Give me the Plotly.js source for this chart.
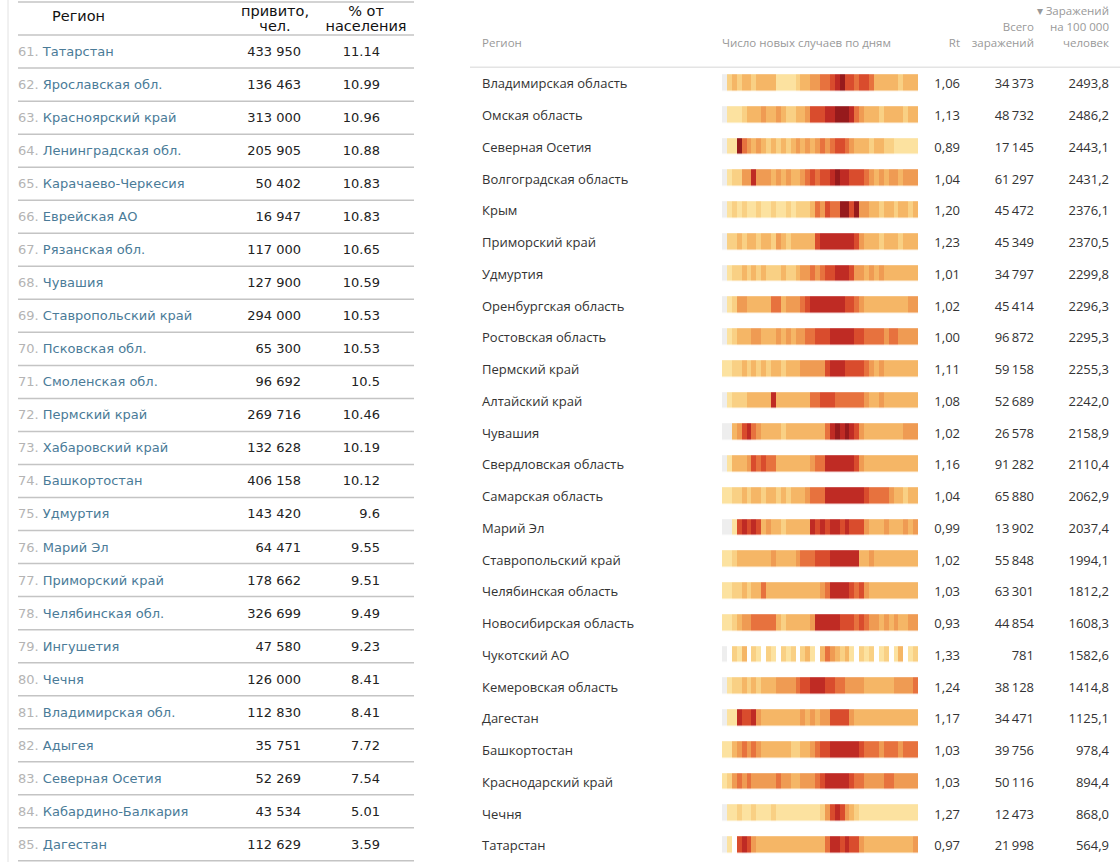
<!DOCTYPE html>
<html><head><meta charset="utf-8">
<script src="https://cdn.plot.ly/plotly-3.0.1.min.js"></script>
<style>html,body{margin:0;padding:0;background:#fff}#chart{width:1120px;height:862px}</style>
</head><body><div id="chart"></div>
<script>
// ---------- LEFT TABLE DATA ----------
const leftRank = [61,62,63,64,65,66,67,68,69,70,71,72,73,74,75,76,77,78,79,80,81,82,83,84,85];
const leftRegions = ["Татарстан","Ярославская обл.","Красноярский край","Ленинградская обл.","Карачаево-Черкесия","Еврейская АО","Рязанская обл.","Чувашия","Ставропольский край","Псковская обл.","Смоленская обл.","Пермский край","Хабаровский край","Башкортостан","Удмуртия","Марий Эл","Приморский край","Челябинская обл.","Ингушетия","Чечня","Владимирская обл.","Адыгея","Северная Осетия","Кабардино-Балкария","Дагестан"];
const leftVaccinated = [433950,136463,313000,205905,50402,16947,117000,127900,294000,65300,96692,269716,132628,406158,143420,64471,178662,326699,47580,126000,112830,35751,52269,43534,112629];
const leftPercent = [11.14,10.99,10.96,10.88,10.83,10.83,10.65,10.59,10.53,10.53,10.5,10.46,10.19,10.12,9.6,9.55,9.51,9.49,9.23,8.41,8.41,7.72,7.54,5.01,3.59];
const leftHeaders = ["Регион","привито,","чел.","% от","населения"];

// ---------- RIGHT TABLE DATA ----------
const rightRegions = ["Владимирская область","Омская область","Северная Осетия","Волгоградская область","Крым","Приморский край","Удмуртия","Оренбургская область","Ростовская область","Пермский край","Алтайский край","Чувашия","Свердловская область","Самарская область","Марий Эл","Ставропольский край","Челябинская область","Новосибирская область","Чукотский АО","Кемеровская область","Дагестан","Башкортостан","Краснодарский край","Чечня","Татарстан"];
const rightRt = [1.06,1.13,0.89,1.04,1.20,1.23,1.01,1.02,1.00,1.11,1.08,1.02,1.16,1.04,0.99,1.02,1.03,0.93,1.33,1.24,1.17,1.03,1.03,1.27,0.97];
const rightTotal = [34373,48732,17145,61297,45472,45349,34797,45414,96872,59158,52689,26578,91282,65880,13902,55848,63301,44854,781,38128,34471,39756,50116,12473,21998];
const rightPer100k = [2493.8,2486.2,2443.1,2431.2,2376.1,2370.5,2299.8,2296.3,2295.3,2255.3,2242.0,2158.9,2110.4,2062.9,2037.4,1994.1,1812.2,1608.3,1582.6,1414.8,1125.1,978.4,894.4,868.0,564.9];
const rightHeaders = ["Регион","Число новых случаев по дням","Rt","Всего","заражений","▾ Заражений","на 100 000","человек"];

// intensity level of new cases per day period (0 = no data, null = zero cases)
const dailyCasesLevel = [
 [0,2,3,2,3,3,2,3,3,3,3,1,1,1,1,2,3,3,4,4,5,5,6,7,8,6,6,5,6,6,5,3,3,3,3,3,2,3,3,3],
 [0,1,1,1,2,3,3,3,4,3,3,4,3,2,2,3,3,4,6,6,6,7,7,8,8,8,7,5,4,3,3,3,2,3,3,3,3,2,3,3],
 [0,1,1,8,5,4,3,4,3,2,3,2,3,2,3,4,3,4,3,4,5,4,5,6,6,5,4,3,3,3,2,3,3,2,2,1,1,1,1,1],
 [0,1,2,2,4,4,7,4,4,4,3,4,3,4,3,3,4,5,6,5,6,6,7,8,7,7,6,6,6,5,4,3,4,3,4,4,3,4,4,4],
 [0,1,2,1,2,1,1,2,1,1,2,1,1,2,1,2,2,2,3,5,4,6,5,5,8,8,6,8,4,4,3,3,2,3,3,2,3,3,2,3],
 [0,2,2,3,2,3,3,2,3,3,2,4,3,2,3,3,3,3,3,6,7,7,7,7,7,7,7,6,4,3,3,3,2,3,3,3,2,3,3,3],
 [0,1,2,2,3,2,3,2,3,2,2,2,3,2,2,3,4,4,5,4,5,6,6,7,7,7,6,4,4,3,4,3,4,3,3,3,3,3,3,3],
 [0,1,2,4,4,3,3,3,3,3,5,5,3,4,4,4,5,6,7,7,7,7,7,7,7,6,6,5,4,3,3,3,3,3,3,3,3,3,4,4],
 [0,1,2,3,3,3,4,4,3,3,3,4,3,4,3,4,4,5,5,6,6,6,7,7,7,7,7,6,6,5,5,5,5,4,5,5,4,4,4,4],
 [1,1,2,2,3,2,3,2,3,2,3,3,2,3,3,3,4,4,4,4,4,6,7,7,7,6,6,6,6,5,4,3,4,3,3,3,3,3,3,3],
 [0,1,2,2,2,3,3,3,3,3,7,3,3,3,3,3,3,3,5,5,6,6,6,5,5,5,5,5,5,4,3,3,4,3,3,3,3,3,3,3],
 [0,0,3,4,6,7,5,4,3,3,3,3,2,3,3,3,3,3,3,3,3,5,7,8,7,8,7,6,4,3,3,3,3,3,3,3,3,4,4,4],
 [0,1,3,3,3,4,6,5,6,5,5,3,3,3,3,3,3,3,4,5,5,7,7,7,7,7,7,6,4,3,3,3,3,3,3,3,3,3,3,3],
 [1,1,2,2,3,2,3,3,2,3,3,2,3,2,3,3,3,4,5,5,5,7,7,7,7,7,7,7,7,6,5,5,5,5,4,3,3,2,3,3],
 [0,0,1,6,7,6,7,6,3,4,3,3,2,3,3,3,3,3,7,6,7,6,7,7,6,7,6,6,6,4,3,3,3,4,3,3,3,4,3,4],
 [1,1,2,3,3,3,3,3,3,3,4,3,3,3,3,4,5,5,5,6,6,6,7,7,7,7,7,7,3,3,4,3,3,3,3,3,3,3,3,3],
 [1,1,2,2,3,2,3,3,5,3,3,3,3,3,3,3,3,3,3,3,4,5,7,7,7,7,6,5,6,4,3,3,3,3,3,3,3,3,3,3],
 [1,1,2,3,4,4,5,5,5,5,5,3,2,3,3,3,3,3,4,7,7,7,7,7,6,6,6,5,6,5,4,4,3,4,3,4,3,3,4,4],
 [0,null,2,1,3,null,2,1,null,2,1,null,2,1,2,null,2,3,1,null,3,5,4,3,2,3,1,null,2,1,2,null,1,2,null,1,3,null,1,2],
 [0,1,2,2,3,2,3,2,3,3,3,4,4,4,4,5,6,6,7,7,7,6,6,5,5,4,4,4,4,3,3,3,3,3,3,4,4,4,4,5],
 [0,1,1,7,6,6,7,4,3,3,3,3,3,3,3,3,4,3,4,3,4,4,6,6,6,6,4,3,3,3,3,3,3,3,3,3,3,3,3,3],
 [1,1,3,4,5,4,5,4,3,3,3,3,3,3,2,2,3,3,4,5,6,6,7,7,7,7,7,7,6,5,5,5,4,5,5,5,4,5,5,5],
 [1,2,4,5,4,5,4,4,4,4,4,5,4,4,3,3,4,4,4,5,6,7,7,7,7,7,6,5,5,4,4,4,4,5,5,4,4,4,4,4],
 [0,1,1,2,1,1,2,1,1,1,2,1,1,1,1,1,1,1,1,1,2,4,6,7,6,4,3,2,1,1,1,1,1,1,1,1,1,1,1,1],
 [0,1,null,6,7,6,4,3,3,3,3,3,3,3,3,3,3,3,3,3,3,5,7,7,6,7,6,6,4,3,3,3,3,3,3,3,3,3,3,4]
];

// ---------- helpers ----------
const fmtThousands = (v, sep) => String(v).replace(/\B(?=(\d{3})+(?!\d))/g, sep);
// pixel-row mapping (layout)
const L0 = 51.6, LP = 33.03;   // left table first row centre / pitch
const R0 = 83, RP = 31.75;     // right table
const H = 862;
const pyL = p => (p - L0) / LP;
const pyR = p => (p - R0) / RP;
const rowsL = leftRegions.map((_, i) => i);
const rowsR = rightRegions.map((_, i) => i);
const textRowsL = rowsL.map(i => i + 1.2 / LP);   // small baseline nudge
const textRowsR = rowsR.map(i => i + 2 / RP);

const fontL = {family: "DejaVu Sans, Verdana, sans-serif", size: 13, color: "#222"};
const fontLH = {family: "DejaVu Sans, Verdana, sans-serif", size: 14.5, color: "#111"};
const fontR = {family: "Open Sans, sans-serif", size: 13, color: "#333"};
const fontRH = {family: "Open Sans, sans-serif", size: 11.5, color: "#999"};

function txt(xpx, ys, texts, pos, font, yax) {
  return {type: "scatter", mode: "text", x: ys.map(() => xpx), y: ys, text: texts,
    textposition: pos, textfont: font, xaxis: "x", yaxis: yax,
    hoverinfo: "skip", showlegend: false, cliponaxis: false};
}

const traces = [];
// left table body
traces.push(txt(18, textRowsL, leftRegions.map((r, i) =>
  '<span style="color:#b4b4b4">' + leftRank[i] + '.</span> <span style="color:#4a7b98">' + r + '</span>'),
  "middle right", fontL, "y"));
traces.push(txt(301, textRowsL, leftVaccinated.map(v => fmtThousands(v, " ")), "middle left", fontL, "y"));
traces.push(txt(380, textRowsL, leftPercent.map(v => String(v)), "middle left", fontL, "y"));
// left headers
traces.push(txt(52, [pyL(17)], [leftHeaders[0]], "middle right", fontLH, "y"));
traces.push(txt(275, [pyL(12), pyL(27)], [leftHeaders[1], leftHeaders[2]], "middle center", fontLH, "y"));
traces.push(txt(366, [pyL(12), pyL(27)], [leftHeaders[3], leftHeaders[4]], "middle center", fontLH, "y"));

// right table body
traces.push(txt(482, textRowsR, rightRegions, "middle right", fontR, "y2"));
traces.push(txt(960, textRowsR, rightRt.map(v => v.toFixed(2).replace(".", ",")), "middle left", fontR, "y2"));
traces.push(txt(1034, textRowsR, rightTotal.map(v => fmtThousands(v, "\u2009")), "middle left", fontR, "y2"));
traces.push(txt(1109, textRowsR, rightPer100k.map(v => v.toFixed(1).replace(".", ",")), "middle left", fontR, "y2"));
// right headers
traces.push(txt(482, [pyR(44)], [rightHeaders[0]], "middle right", fontRH, "y2"));
traces.push(txt(722, [pyR(44)], [rightHeaders[1]], "middle right", fontRH, "y2"));
traces.push(txt(960, [pyR(44)], [rightHeaders[2]], "middle left", fontRH, "y2"));
traces.push(txt(1034, [pyR(28), pyR(44)], [rightHeaders[3], rightHeaders[4]], "middle left", fontRH, "y2"));
traces.push(txt(1109, [pyR(12), pyR(28), pyR(44)], [rightHeaders[5], rightHeaders[6], rightHeaders[7]], "middle left", fontRH, "y2"));

// heatmap strips
const nDays = dailyCasesLevel[0].length;
traces.push({type: "heatmap", z: dailyCasesLevel, x: dailyCasesLevel[0].map((_, j) => j), y: rowsR,
  xaxis: "x2", yaxis: "y3", zmin: 0, zmax: 8, showscale: false, hoverinfo: "skip", ygap: 15.5, xgap: 0,
  colorscale: [[0, "#eeeeee"], [0.125, "#fce2a0"], [0.25, "#f9d084"], [0.375, "#f5b666"], [0.5, "#ef9b53"],
               [0.625, "#e7723e"], [0.75, "#d94c2d"], [0.875, "#bf2b24"], [1, "#961a1c"]]});

// shapes: row separators
const shapes = [];
const lineL = {color: "#c4c4c4", width: 1.5};
shapes.push({type: "line", xref: "x", yref: "y", x0: 18, x1: 414, y0: pyL(2), y1: pyL(2), line: lineL});
for (let i = 0; i <= leftRegions.length; i++) {
  shapes.push({type: "line", xref: "x", yref: "y", x0: 18, x1: 414, y0: i - 0.5, y1: i - 0.5, line: lineL});
}
shapes.push({type: "line", xref: "x", yref: "y", x0: 8, x1: 8, y0: pyL(0), y1: pyL(H), line: {color: "#e2e2e2", width: 1}});
shapes.push({type: "line", xref: "x", yref: "y2", x0: 470, x1: 1120, y0: -0.5, y1: -0.5, line: {color: "#e4e4e4", width: 1.5}});

const layout = {
  width: 1120, height: 862, margin: {l: 0, r: 0, t: 0, b: 0},
  paper_bgcolor: "#fff", plot_bgcolor: "rgba(0,0,0,0)", showlegend: false,
  xaxis: {domain: [0, 1], range: [0, 1120], visible: false, fixedrange: true},
  yaxis: {domain: [0, 1], range: [pyL(H), pyL(0)], visible: false, fixedrange: true},
  yaxis2: {overlaying: "y", anchor: "x", range: [pyR(H), pyR(0)], visible: false, fixedrange: true},
  xaxis2: {domain: [722 / 1120, 918 / 1120], anchor: "y3", range: [-0.5, nDays - 0.5], visible: false, fixedrange: true},
  yaxis3: {domain: [0, 1], anchor: "x2", range: [pyR(H), pyR(0)], visible: false, fixedrange: true},
  shapes: shapes
};
Plotly.newPlot("chart", traces, layout, {staticPlot: true, displayModeBar: false});
</script></body></html>
